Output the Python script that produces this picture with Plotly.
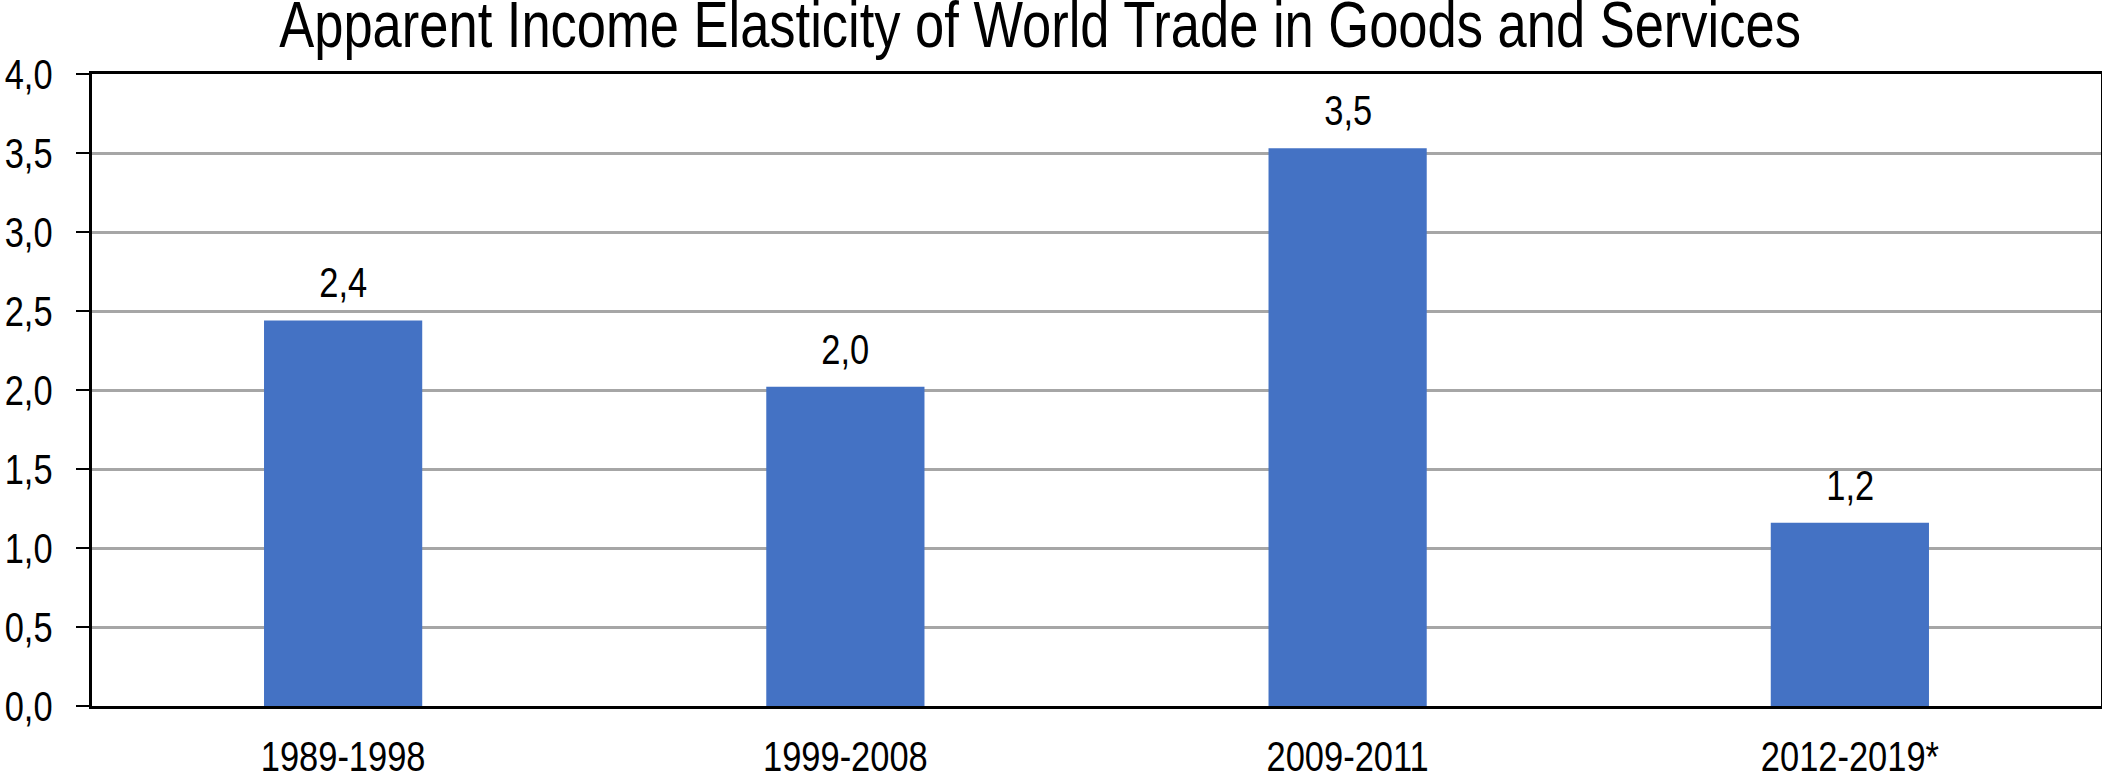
import plotly.graph_objects as go

# Apparent income elasticity of world trade by period
periods = ["1989-1998", "1999-2008", "2009-2011", "2012-2019*"]
elasticity = [2.44, 2.02, 3.53, 1.16]
y_ticks = [0.0, 0.5, 1.0, 1.5, 2.0, 2.5, 3.0, 3.5, 4.0]

FONT = "Liberation Sans, Arial, sans-serif"
LABEL_SIZE = 42

fig = go.Figure(
    go.Bar(
        x=periods,
        y=elasticity,
        width=0.315,
        marker=dict(color="#4472C4", line=dict(width=0)),
        hoverinfo="x+y",
    )
)

# value labels above each bar, formatted with a decimal comma
for p, v in zip(periods, elasticity):
    fig.add_annotation(
        x=p,
        y=v,
        text=f"{v:.1f}".replace(".", ","),
        showarrow=False,
        xanchor="center",
        yanchor="bottom",
        yshift=12,
        font=dict(family=FONT, size=LABEL_SIZE, color="black"),
    )

fig.update_layout(
    width=2102,
    height=779,
    margin=dict(l=92, r=1, t=74, b=73, autoexpand=False),
    paper_bgcolor="white",
    plot_bgcolor="white",
    separators=",.",
    showlegend=False,
    font=dict(family=FONT, size=LABEL_SIZE, color="black"),
    title=dict(
        text="Apparent Income Elasticity of World Trade in Goods and Services",
        x=0.4948,
        xanchor="center",
        y=0.997,
        yanchor="top",
        pad=dict(t=0, b=0),
        font=dict(family=FONT, size=64, color="black"),
    ),
)

fig.update_xaxes(
    showline=True,
    linecolor="black",
    linewidth=3,
    mirror=True,
    ticks="",
    automargin=False,
    ticklabelstandoff=12,
    tickfont=dict(family=FONT, size=LABEL_SIZE, color="black"),
)

fig.update_yaxes(
    range=[0, 4.0],
    tickvals=y_ticks,
    tickformat=".1f",
    showline=True,
    linecolor="black",
    linewidth=3,
    mirror=True,
    ticks="outside",
    ticklen=13,
    tickwidth=2,
    tickcolor="black",
    automargin=False,
    ticklabelstandoff=15,
    showgrid=True,
    gridcolor="#A6A6A6",
    gridwidth=3,
    zeroline=False,
    tickfont=dict(family=FONT, size=LABEL_SIZE, color="black"),
)

# Render every text element in a condensed (narrow) width, keeping its anchor.
narrow_js = """
var gd = document.getElementById('{plot_id}');
function squeezeText() {
  gd.querySelectorAll('svg text').forEach(function (t) {
    if (t.getAttribute('data-narrow')) { return; }
    var w = t.getComputedTextLength();
    if (w > 0) {
      t.setAttribute('textLength', (w * 0.82).toFixed(2));
      t.setAttribute('lengthAdjust', 'spacingAndGlyphs');
      t.setAttribute('data-narrow', '1');
    }
  });
}
squeezeText();
gd.on('plotly_afterplot', squeezeText);
"""

fig.write_html("out.html", post_script=narrow_js)
